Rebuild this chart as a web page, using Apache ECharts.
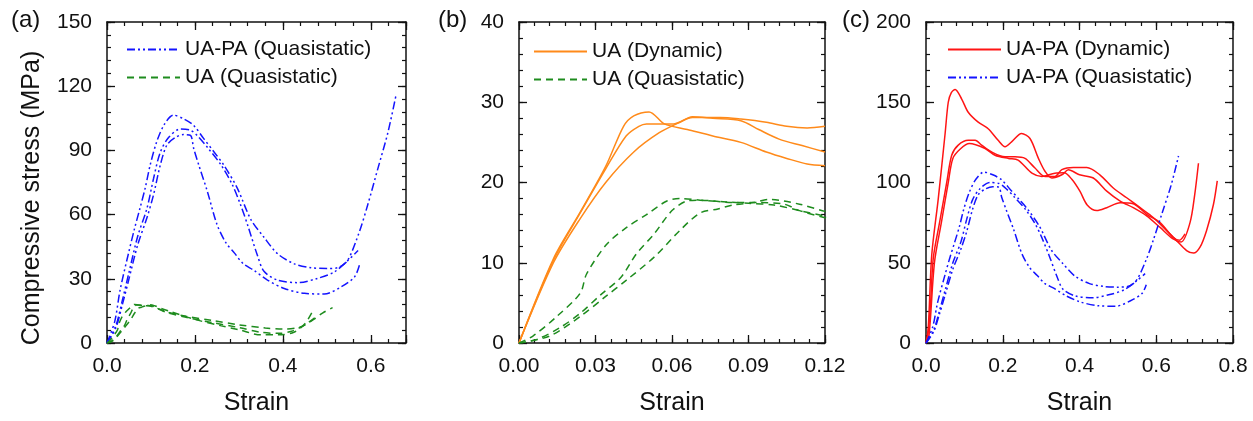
<!DOCTYPE html>
<html><head><meta charset="utf-8">
<script src="https://cdn.jsdelivr.net/npm/echarts@6/dist/echarts.min.js"></script>
<style>html,body{margin:0;padding:0;background:#fff}#c{width:1253px;height:421px}</style>
</head><body><div id="c"></div>
<script>
// ---------- DATA ----------
// UA-PA quasistatic (blue, panels a & c)
const uapaQ1Strain = [0,0.0175,0.03,0.049,0.062,0.075,0.087,0.098,0.113,0.13,0.151,0.174,0.197,0.22,0.243,0.266,0.296,0.327,0.357,0.388,0.426,0.464,0.5,0.525,0.547,0.574,0.593,0.616,0.639,0.658];
const uapaQ1Stress = [0,10,25,42,53,63,72.5,83,94,102,106.5,104.8,101.7,95.5,89.4,83,72.5,57.8,49.4,41.7,37,35.2,34.8,35.2,38.5,52,64.6,81.5,98.5,116.5];
const uapaQ2Strain = [0,0.02,0.035,0.05,0.07,0.091,0.106,0.121,0.14,0.167,0.19,0.205,0.23,0.26,0.285,0.303,0.32,0.342,0.357,0.388,0.434,0.479,0.517,0.548,0.571];
const uapaQ2Stress = [0,8,20,33,50,63,77,89,96,100,99.4,97,91,83,74,65,55,41,33.5,29.4,28.2,30.2,33.2,38.6,43.2];
const uapaQ3Strain = [0,0.02,0.035,0.05,0.07,0.091,0.106,0.121,0.136,0.155,0.174,0.19,0.197,0.209,0.228,0.25,0.27,0.29,0.31,0.334,0.365,0.403,0.449,0.494,0.533,0.563,0.574];
const uapaQ3Stress = [0,7,18,30,46,58.6,69.4,83,92.4,96,97.4,97,91,83,71,55.5,47,42,37,34,29.4,25.5,23.2,22.9,26.3,30.9,36.3];

// UA quasistatic (green, panels a & b)
const uaQ1Strain = [0,0.0056,0.0148,0.024,0.0265,0.0344,0.0422,0.05,0.058,0.063,0.071,0.08,0.09,0.1,0.11,0.12,0.136,0.18,0.24,0.3,0.36,0.4,0.44,0.47,0.49,0.513];
const uaQ1Stress = [0,0.9,3.3,6.2,8.6,12.3,14.4,16,17.7,18,17.8,17.6,17.4,17.2,16.5,15.8,14.5,12.5,10.5,8.5,7,6.5,7.5,11,14,16.5];
const uaQ2Strain = [0,0.007,0.016,0.024,0.032,0.04,0.046,0.053,0.06,0.066,0.071,0.084,0.094,0.104,0.11,0.12,0.14,0.18,0.24,0.3,0.35,0.39,0.42,0.45,0.48];
const uaQ2Stress = [0,0.45,1.9,3.7,6,8.2,11.1,13.6,16.5,17.7,17.8,17.5,17.5,17.3,16.5,15.6,14,12,9.5,7.2,5,4.5,5.5,8.5,13];
const uaQ3Strain = [0,0.012,0.024,0.034,0.042,0.053,0.063,0.071,0.078,0.084,0.092,0.098,0.11,0.12,0.14,0.2,0.26,0.3,0.35,0.39,0.425,0.45,0.467];
const uaQ3Stress = [0,0.86,3.3,5.8,7.8,10.7,14,16.2,16.7,17.2,17.5,17.9,17.3,16.4,15,11,8,6.2,3.8,3.8,5,9,14.6];

// UA dynamic (orange, panel b)
const uaD1Strain = [0,0.0135,0.024,0.034,0.041,0.045,0.051,0.057,0.066,0.076,0.087,0.097,0.105,0.113,0.12];
const uaD1Stress = [0,10.5,16.3,22,27,28.3,28.8,27.3,26.6,25.8,25,23.8,23,22.3,22.1];
const uaD2Strain = [0,0.0135,0.024,0.034,0.042,0.047,0.05,0.0605,0.068,0.079,0.087,0.097,0.105,0.113,0.12];
const uaD2Stress = [0,10.3,16.2,21.7,25.8,27,27.3,27.3,28.1,28.1,27.9,27.5,27,26.8,27];
const uaD3Strain = [0,0.0135,0.024,0.034,0.045,0.055,0.063,0.068,0.076,0.087,0.094,0.102,0.111,0.12];
const uaD3Stress = [0,10,15.5,20,23.8,26.2,27.5,28.2,28,27.7,26.6,25.4,24.6,23.8];

// UA-PA dynamic (red, panel c)
const uapaD1Strain = [0,0.006,0.015,0.032,0.05,0.058,0.066,0.076,0.093,0.11,0.136,0.162,0.188,0.206,0.223,0.249,0.271,0.293,0.31,0.328,0.354,0.371,0.4,0.436,0.471,0.506,0.54,0.575,0.61,0.644,0.665,0.688,0.7,0.71];
const uapaD1Stress = [0,10,55,90,131,150,156,158,152,143.8,137.6,133.5,126.3,122.3,125.3,130.5,127.4,115,107,102.8,104.8,107.9,104.8,102.8,94.6,88.4,84.3,79.2,72,64.8,63,75,92,112];
const uapaD2Strain = [0,0.005,0.012,0.019,0.036,0.054,0.067,0.084,0.11,0.128,0.145,0.171,0.206,0.232,0.258,0.284,0.31,0.336,0.354,0.384,0.419,0.453,0.488,0.523,0.558,0.592,0.627,0.653,0.679,0.697,0.714,0.731,0.749,0.759];
const uapaD2Stress = [0,5,25,53,76,100,117,123.3,126.3,126.3,123.3,119,116,116,115,109,103.8,103.8,108,109.3,109.3,104.8,96.6,90.5,84.3,78.2,70,63.8,57.6,56,59.7,70,86.3,101];
const uapaD3Strain = [0,0.008,0.022,0.04,0.058,0.07,0.09,0.113,0.154,0.18,0.215,0.24,0.276,0.302,0.336,0.36,0.38,0.401,0.42,0.445,0.471,0.506,0.54,0.575,0.61,0.644,0.66,0.675];
const uapaD3Stress = [0,5,50,75,100,115,121,124.3,121.2,117,115,114,105.8,103.8,105.8,106,102,94.6,86,82.5,84.3,87.4,86.8,80.2,75,65.8,64,68];

// axis ticks
const xTicksA = [0, 0.2, 0.4, 0.6];
const yTicksA = [0, 30, 60, 90, 120, 150];
const xTicksB = [0, 0.03, 0.06, 0.09, 0.12];
const yTicksB = [0, 10, 20, 30, 40];
const xTicksC = [0, 0.2, 0.4, 0.6, 0.8];
const yTicksC = [0, 50, 100, 150, 200];

const NAME_UAPA_Q = 'UA-PA (Quasistatic)';
const NAME_UA_Q = 'UA (Quasistatic)';
const NAME_UA_D = 'UA (Dynamic)';
const NAME_UAPA_D = 'UA-PA (Dynamic)';

// ---------- BUILD ----------
const F = '"Liberation Sans", Arial, Helvetica, sans-serif';
const C_BLUE = '#1414ff', C_GREEN = '#1e8c1e', C_ORANGE = '#ff8a1a', C_RED = '#ff1414';
const DASHDOT = [8, 3, 2, 3, 2, 3];
const DASH = [7, 5];

function pairs(xs, ys) { return xs.map((x, i) => [x, ys[i]]); }

function isMajor(v, ticks) { return ticks.some(t => Math.abs(t - v) < 1e-9); }

function axesFor(dim, grid, ticks, minorInt, max, digits, name) {
  const major = ticks[1] - ticks[0];
  const common = {
    type: 'value', gridIndex: grid, min: 0, max: max,
    splitLine: { show: false }, splitArea: { show: false }
  };
  const pos = dim === 'x' ? ['bottom', 'top'] : ['left', 'right'];
  const out = [];
  pos.forEach((p, k) => {
    out.push(Object.assign({}, common, {
      position: p, interval: major,
      axisLine: { show: true, onZero: false, lineStyle: { color: '#111', width: 1.5 } },
      axisTick: { show: true, inside: true, length: 8, lineStyle: { color: '#111', width: 1.3 } },
      minorTick: { show: false },
      axisLabel: k === 0 ? {
        show: true, fontSize: 21, color: '#111', fontFamily: F,
        margin: dim === 'x' ? 13 : 15,
        showMaxLabel: true,
        formatter: v => isMajor(v, ticks) ? v.toFixed(digits) : ''
      } : { show: false },
      name: (k === 0 && name) ? name : '',
      nameLocation: 'middle', nameGap: 48,
      nameTextStyle: { fontSize: 25, color: '#111', fontFamily: F }
    }));
    out.push(Object.assign({}, common, {
      position: p, interval: minorInt,
      axisLine: { show: false, onZero: false },
      axisTick: { show: true, inside: true, length: 4, lineStyle: { color: '#111', width: 1.2 } },
      axisLabel: { show: false }
    }));
  });
  return out;
}

const xAxes = [].concat(
  axesFor('x', 0, xTicksA, 0.04, 0.68, 1, 'Strain'),
  axesFor('x', 1, xTicksB, 0.006, 0.12, 2, 'Strain'),
  axesFor('x', 2, xTicksC, 0.04, 0.8, 1, 'Strain')
);
const yAxes = [].concat(
  axesFor('y', 0, yTicksA, 6, 150, 0, ''),
  axesFor('y', 1, yTicksB, 2, 40, 0, ''),
  axesFor('y', 2, yTicksC, 10, 200, 0, '')
);

function line(name, xs, ys, g, color, type) {
  return {
    type: 'line', name: name, data: pairs(xs, ys),
    xAxisIndex: g * 4, yAxisIndex: g * 4,
    showSymbol: false, symbol: 'none', smooth: 0.3, clip: true,
    lineStyle: { color: color, width: 1.5, type: type },
    itemStyle: { color: color },
    emphasis: { disabled: true }, z: 3
  };
}

const series = [
  // panel a
  line(NAME_UAPA_Q, uapaQ1Strain, uapaQ1Stress, 0, C_BLUE, DASHDOT),
  line(NAME_UAPA_Q, uapaQ2Strain, uapaQ2Stress, 0, C_BLUE, DASHDOT),
  line(NAME_UAPA_Q, uapaQ3Strain, uapaQ3Stress, 0, C_BLUE, DASHDOT),
  line(NAME_UA_Q, uaQ1Strain, uaQ1Stress, 0, C_GREEN, DASH),
  line(NAME_UA_Q, uaQ2Strain, uaQ2Stress, 0, C_GREEN, DASH),
  line(NAME_UA_Q, uaQ3Strain, uaQ3Stress, 0, C_GREEN, DASH),
  // panel b
  line(NAME_UA_D, uaD1Strain, uaD1Stress, 1, C_ORANGE, 'solid'),
  line(NAME_UA_D, uaD2Strain, uaD2Stress, 1, C_ORANGE, 'solid'),
  line(NAME_UA_D, uaD3Strain, uaD3Stress, 1, C_ORANGE, 'solid'),
  line(NAME_UA_Q, uaQ1Strain, uaQ1Stress, 1, C_GREEN, DASH),
  line(NAME_UA_Q, uaQ2Strain, uaQ2Stress, 1, C_GREEN, DASH),
  line(NAME_UA_Q, uaQ3Strain, uaQ3Stress, 1, C_GREEN, DASH),
  // panel c
  line(NAME_UAPA_D, uapaD1Strain, uapaD1Stress, 2, C_RED, 'solid'),
  line(NAME_UAPA_D, uapaD2Strain, uapaD2Stress, 2, C_RED, 'solid'),
  line(NAME_UAPA_D, uapaD3Strain, uapaD3Stress, 2, C_RED, 'solid'),
  line(NAME_UAPA_Q, uapaQ1Strain, uapaQ1Stress, 2, C_BLUE, DASHDOT),
  line(NAME_UAPA_Q, uapaQ2Strain, uapaQ2Stress, 2, C_BLUE, DASHDOT),
  line(NAME_UAPA_Q, uapaQ3Strain, uapaQ3Stress, 2, C_BLUE, DASHDOT)
];

function legend(names, left, top) {
  return {
    data: names, left: left, top: top, orient: 'vertical',
    itemWidth: 53, itemHeight: 14, itemGap: 7,
    selectedMode: false,
    itemStyle: { opacity: 0, borderWidth: 0 },
    textStyle: { fontSize: 21, color: '#111', fontFamily: F, lineHeight: 21 }
  };
}

const option = {
  animation: false,
  backgroundColor: '#ffffff',
  grid: [
    { left: 107, top: 22, width: 299, height: 325 },
    { left: 519, top: 22, width: 306, height: 325 },
    { left: 926, top: 22, width: 307, height: 325 }
  ],
  xAxis: xAxes,
  yAxis: yAxes,
  legend: [
    legend([NAME_UAPA_Q, NAME_UA_Q], 121, 34),
    legend([NAME_UA_D, NAME_UA_Q], 528, 36),
    legend([NAME_UAPA_D, NAME_UAPA_Q], 942, 34)
  ],
  graphic: [
    { type: 'text', x: 11, y: 20, style: { text: '(a)', font: '24px ' + F, fill: '#111', textVerticalAlign: 'middle', verticalAlign: 'middle' } },
    { type: 'text', x: 438, y: 20, style: { text: '(b)', font: '24px ' + F, fill: '#111', textVerticalAlign: 'middle', verticalAlign: 'middle' } },
    { type: 'text', x: 842, y: 20, style: { text: '(c)', font: '24px ' + F, fill: '#111', textVerticalAlign: 'middle', verticalAlign: 'middle' } },
    { type: 'text', x: 32, y: 198, rotation: Math.PI / 2,
      style: { text: 'Compressive stress (MPa)', font: '25px ' + F, fill: '#111',
        textAlign: 'center', align: 'center', textVerticalAlign: 'middle', verticalAlign: 'middle' } }
  ],
  series: series
};

const chart = echarts.init(document.getElementById('c'), null, { renderer: 'canvas' });
chart.setOption(option);
</script></body></html>
